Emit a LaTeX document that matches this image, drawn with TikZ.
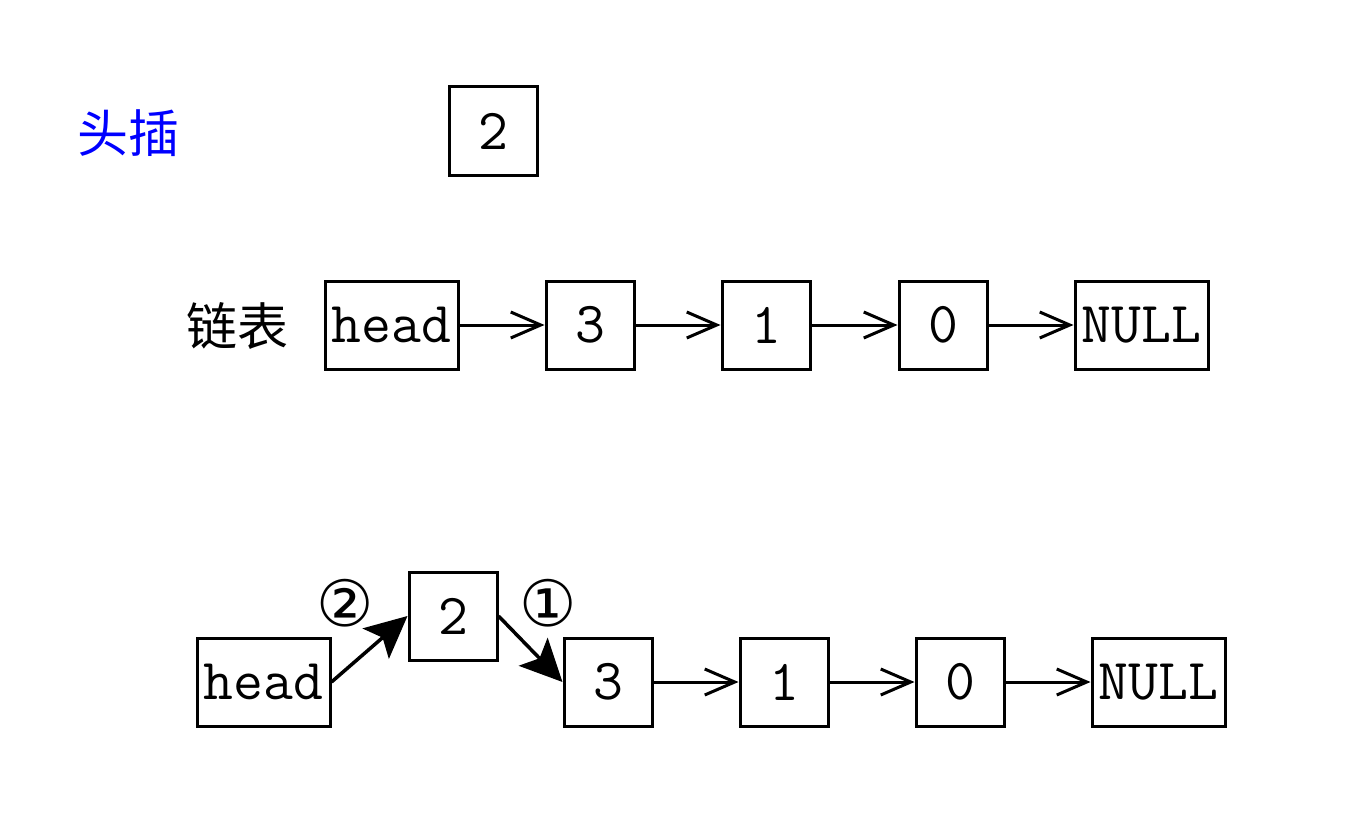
\documentclass[tikz,border=0pt]{standalone}
\usepackage{fontspec}
\newfontfamily\cjk{Noto Sans CJK SC}
\newfontfamily\djv{DejaVu Sans}
\usetikzlibrary{arrows.meta}
\begin{document}
\begin{tikzpicture}[x=1pt,y=-1pt,
  cell/.style={draw,line width=3pt,minimum height=88pt,inner sep=0pt,font=\ttfamily\fontsize{58}{58}\selectfont},
  sq/.style={cell,minimum width=88pt},
  wide/.style={cell,minimum width=133pt},
  lnk/.style={line width=3pt,-{Straight Barb[length=30pt,width=26pt]}},
  big/.style={line width=3.5pt,-{Stealth[length=42pt,width=40pt,inset=9pt]}},
  lab/.style={font=\cjk\fontsize{51}{51}\selectfont},
  num/.style={font=\djv\fontsize{64}{64}\selectfont}]
\useasboundingbox (0,0) rectangle (1346,840);
\node[lab,text=blue] (title) at (128,133) {头插};
\node[sq] (n2) at (493,131) {2};
\node[lab] (list) at (237,326) {链表};
\node[wide] (h1) at (391.5,325) {head};
\node[sq] (a3) at (590,325) {3};
\node[sq] (a1) at (766,325) {1};
\node[sq] (a0) at (943,325) {0};
\node[wide] (an) at (1141.5,325) {NULL};
\draw[lnk] (h1) -- (a3);
\draw[lnk] (a3) -- (a1);
\draw[lnk] (a1) -- (a0);
\draw[lnk] (a0) -- (an);
\node[wide] (h2) at (263.5,682) {head};
\node[sq] (b2) at (453,616) {2};
\node[sq] (b3) at (608,682) {3};
\node[sq] (b1) at (784,682) {1};
\node[sq] (b0) at (960,682) {0};
\node[wide] (bn) at (1158.5,682) {NULL};
\draw[big] (h2.east) -- (b2.west);
\draw[big] (b2.east) -- (b3.west);
\draw[lnk] (b3) -- (b1);
\draw[lnk] (b1) -- (b0);
\draw[lnk] (b0) -- (bn);
\node[num] (c2) at (345,603) {②};
\node[num] (c1) at (548,603) {①};
\end{tikzpicture}
\end{document}
